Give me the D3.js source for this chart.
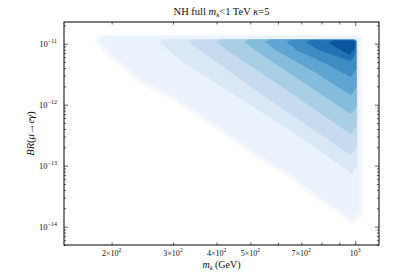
<!DOCTYPE html>
<html>
<head>
<meta charset="utf-8">
<script src="https://cdn.jsdelivr.net/npm/d3@7"></script>
<style>
  body { margin: 0; background: #fff; }
  svg text { font-family: 'Liberation Serif', 'DejaVu Serif', serif; fill: #111; }
</style>
</head>
<body>
<div id="chart"></div>
<script>
// filled contour levels, outermost (lightest) to innermost (darkest)
const levelColors = ['#f4f8fd', '#eaf2fb', '#dae8f5', '#c6dbef', '#a9cfe5', '#84bcdb', '#5fa5d1', '#3f8cc4', '#2171b5', '#0b559f'];
const levelTopBR = [1.39e-11, 1.31e-11, 1.17e-11, 1.17e-11, 1.17e-11, 1.17e-11, 1.16e-11, 1.15e-11, 1.14e-11, 1.12e-11];
const levelRightMk = [1045, 1025, 1011, 1010, 1009, 1008, 1006, 1004, 1002, 998];
// lower-left edge of each level (m_k in GeV, BR)
const levelEdgeMk = [
  [179, 193, 241, 304, 378, 470, 526, 641, 782, 898, 978],
  [185, 198, 246, 308, 383, 476, 533, 649, 792, 904, 978],
  [275, 314, 452, 649, 978],
  [335, 358, 569, 972],
  [401, 428, 649, 972],
  [483, 516, 694, 972],
  [554, 592, 766, 972],
  [637, 680, 819, 972],
  [727, 777, 972],
  [841, 966],
];
const levelEdgeBR = [
  [1.15e-11, 6.8e-12, 2.27e-12, 1.15e-12, 5.0e-13, 2.10e-13, 1.34e-13, 6.8e-14, 2.74e-14, 1.68e-14, 1.11e-14],
  [1.15e-11, 7.3e-12, 2.54e-12, 1.29e-12, 5.6e-13, 2.35e-13, 1.50e-13, 7.6e-14, 3.07e-14, 1.88e-14, 1.29e-14],
  [1.07e-11, 5.4e-12, 1.44e-12, 3.85e-13, 7.6e-14],
  [1.07e-11, 7.9e-12, 1.19e-12, 1.50e-13],
  [1.07e-11, 7.9e-12, 1.62e-12, 3.31e-13],
  [1.07e-11, 7.9e-12, 2.54e-12, 7.05e-13],
  [1.07e-11, 7.9e-12, 3.44e-12, 1.44e-12],
  [1.07e-11, 7.9e-12, 4.83e-12, 2.85e-12],
  [1.07e-11, 8.2e-12, 5.2e-12],
  [1.03e-11, 6.5e-12],
];

const xTickVals = [200, 300, 400, 500, 700, 1000];
const xTickMant = ['2×10', '3×10', '4×10', '5×10', '7×10', '10'];
const xTickExp = ['2', '2', '2', '2', '2', '3'];
const yTickVals = [1e-11, 1e-12, 1e-13, 1e-14];
const yTickExp = ['−11', '−12', '−13', '−14'];

{
  const W = 407;
  const H = 279;
  const margin = { top: 22, right: 28, bottom: 34, left: 64 };
  const width = W - margin.left - margin.right;
  const height = H - margin.top - margin.bottom;

  const x = d3.scaleLog().domain([146, 1170]).range([0, width]);
  const y = d3.scaleLog().domain([5.0e-15, 2.27e-11]).range([height, 0]);

  const svg = d3.select('#chart').append('svg')
    .attr('width', W)
    .attr('height', H);

  const g = svg.append('g')
    .attr('transform', `translate(${margin.left},${margin.top})`);

  g.append('clipPath').attr('id', 'clip')
    .append('rect').attr('width', width).attr('height', height);

  const line = d3.line()
    .x(d => x(d[0]))
    .y(d => y(d[1]))
    .curve(d3.curveLinearClosed);

  const bands = levelColors.map((c, i) => {
    const edge = levelEdgeMk[i].map((m, j) => [m, levelEdgeBR[i][j]]);
    const last = edge[edge.length - 1];
    const top = levelTopBR[i];
    const right = levelRightMk[i];
    return [
      [edge[0][0] * 1.03, top],
      ...edge,
      [right, last[1] * 1.35],
      [right, top * 0.96],
      [right * 0.985, top],
    ];
  });

  g.append('g').attr('clip-path', 'url(#clip)')
    .selectAll('path')
    .data(bands)
    .enter()
    .append('path')
    .attr('d', line)
    .attr('fill', (d, i) => levelColors[i])
    .attr('stroke', (d, i) => levelColors[i])
    .attr('stroke-width', 0.6);

  // ticks, inward on all four sides
  const xMinor = x.ticks().filter(v => !xTickVals.includes(v));
  const yMinor = y.ticks().filter(v => !yTickVals.includes(v));

  const addAxis = (axisFn, scale, vals, size, transform) => {
    const ax = g.append('g')
      .attr('class', 'axis')
      .attr('transform', transform)
      .call(axisFn(scale).tickValues(vals).tickSize(-size).tickSizeOuter(0).tickFormat(''));
    ax.select('.domain').remove();
    ax.selectAll('line').attr('stroke', '#222').attr('stroke-width', 0.7);
  };

  addAxis(d3.axisBottom, x, xTickVals.filter(v => v !== 1000), 2.5, `translate(0,${height})`);
  addAxis(d3.axisBottom, x, [1000], 4, `translate(0,${height})`);
  addAxis(d3.axisBottom, x, xMinor, 2.5, `translate(0,${height})`);
  addAxis(d3.axisTop, x, xTickVals.filter(v => v !== 1000), 2.5, 'translate(0,0)');
  addAxis(d3.axisTop, x, [1000], 4, 'translate(0,0)');
  addAxis(d3.axisTop, x, xMinor, 2.5, 'translate(0,0)');
  addAxis(d3.axisLeft, y, yTickVals, 4, 'translate(0,0)');
  addAxis(d3.axisLeft, y, yMinor, 2, 'translate(0,0)');
  addAxis(d3.axisRight, y, yTickVals, 4, `translate(${width},0)`);
  addAxis(d3.axisRight, y, yMinor, 2, `translate(${width},0)`);

  g.append('rect')
    .attr('width', width)
    .attr('height', height)
    .attr('fill', 'none')
    .attr('stroke', '#000')
    .attr('stroke-width', 1);

  // x tick labels
  const xl = g.append('g').selectAll('text')
    .data(xTickVals)
    .enter()
    .append('text')
    .attr('x', d => x(d))
    .attr('y', height + 11)
    .attr('text-anchor', 'middle')
    .attr('font-size', 8);
  xl.append('tspan').text((d, i) => xTickMant[i]);
  xl.append('tspan').attr('dy', -3.8).attr('font-size', 5.5).text((d, i) => xTickExp[i]);

  // y tick labels
  const yl = g.append('g').selectAll('text')
    .data(yTickVals)
    .enter()
    .append('text')
    .attr('x', -7)
    .attr('y', d => y(d) + 3)
    .attr('text-anchor', 'end')
    .attr('font-size', 8.5);
  yl.append('tspan').text('10');
  yl.append('tspan').attr('dy', -4).attr('font-size', 6).text((d, i) => yTickExp[i]);

  // title
  const title = svg.append('text')
    .attr('x', margin.left + width / 2)
    .attr('y', 15)
    .attr('text-anchor', 'middle')
    .attr('font-size', 10.5);
  title.append('tspan').text('NH full ');
  title.append('tspan').attr('font-style', 'italic').text('m');
  title.append('tspan').attr('dy', 2).attr('font-size', 7).attr('font-style', 'italic').text('k');
  title.append('tspan').attr('dy', -2).text('<1 TeV ');
  title.append('tspan').attr('font-style', 'italic').text('κ');
  title.append('tspan').text('=5');

  // x label
  const xLabel = svg.append('text')
    .attr('x', margin.left + width / 2)
    .attr('y', H - 11)
    .attr('text-anchor', 'middle')
    .attr('font-size', 10);
  xLabel.append('tspan').attr('font-style', 'italic').text('m');
  xLabel.append('tspan').attr('dy', 2).attr('font-size', 6.5).attr('font-style', 'italic').text('k');
  xLabel.append('tspan').attr('dy', -2).text(' (GeV)');

  // y label
  const yLabel = svg.append('text')
    .attr('transform', `translate(34,${margin.top + height / 2}) rotate(-90)`)
    .attr('text-anchor', 'middle')
    .attr('font-size', 10.5);
  yLabel.append('tspan').attr('font-style', 'italic').text('BR');
  yLabel.append('tspan').text('(');
  yLabel.append('tspan').attr('font-style', 'italic').text('μ');
  yLabel.append('tspan').text('→');
  yLabel.append('tspan').attr('font-style', 'italic').text('eγ');
  yLabel.append('tspan').text(')');
}
</script>
</body>
</html>
